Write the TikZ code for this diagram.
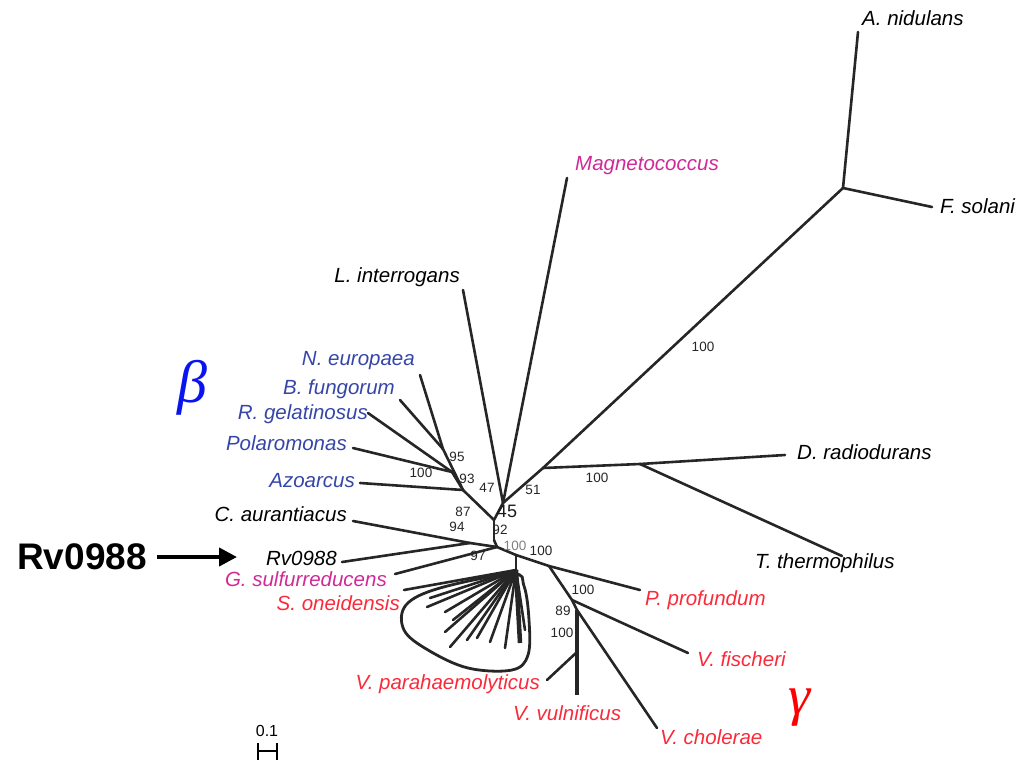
\documentclass[tikz,border=0pt]{standalone}
\usepackage{fontspec}
\setmainfont{Liberation Sans}
\newfontfamily\grkfont{Liberation Serif}
\usetikzlibrary{arrows.meta}
\definecolor{betablue}{HTML}{3646A8}
\definecolor{magblue}{HTML}{0A14F0}
\definecolor{magpink}{HTML}{D02A96}
\definecolor{gamred}{HTML}{FA2A3A}

\begin{document}
\begin{tikzpicture}[x=1pt, y=-1pt,
  br/.style={line width=2.6pt, black!85, line cap=round},
  fan/.style={line width=2.6pt, black!85, line cap=round},
  taxon/.style={font=\fontsize{20.5}{20.5}\selectfont\itshape, inner sep=0pt},
  boot/.style={font=\fontsize{13.5}{13.5}\selectfont, black!85, inner sep=0pt},
  bigboot/.style={font=\fontsize{18}{18}\selectfont, black!90, inner sep=0pt},
  grk/.style={font=\fontsize{60}{60}\grkfont\itshape, inner sep=0pt},
]
  \useasboundingbox (0,0) rectangle (1025,766);

  % leaf ends
  \coordinate (anid) at (858,32);   \coordinate (fsol) at (932,207);
  \coordinate (mag) at (567,178);   \coordinate (lint) at (463,290);
  \coordinate (neu) at (420,375);   \coordinate (bfu) at (400,400);
  \coordinate (rge) at (368,413);   \coordinate (pol) at (353,448);
  \coordinate (azo) at (360,483);   \coordinate (cau) at (353,521);
  \coordinate (rv) at (342,562);    \coordinate (gsu) at (395,574);
  \coordinate (son) at (404,590);   \coordinate (vpa) at (547,680);
  \coordinate (vvu) at (577,695);   \coordinate (vch) at (657,728);
  \coordinate (vfi) at (688,653);   \coordinate (ppr) at (640,590);
  \coordinate (dra) at (785,455);   \coordinate (tth) at (842,556);

  % inner nodes
  \coordinate (nfun) at (843,188);  \coordinate (ndt) at (543,468);
  \coordinate (nd) at (640,464);    \coordinate (nmag) at (503,503);
  \coordinate (nb1) at (443,449);   \coordinate (nb2) at (452,472);
  \coordinate (nb3) at (463,490);   \coordinate (nj) at (494,520);
  \coordinate (nc) at (494,540);    \coordinate (nr) at (470,543);
  \coordinate (ncen) at (497,547);  \coordinate (ng) at (516,555);
  \coordinate (nf) at (516,570);    \coordinate (nv) at (549,566);
  \coordinate (nv2) at (572,600);   \coordinate (nv3) at (577,610);
  \coordinate (nv4) at (577,652);

  % branches
  \draw[br] (nfun) -- (anid);  \draw[br] (nfun) -- (fsol);
  \draw[br] (nfun) -- (ndt);
  \draw[br] (ndt) -- (nd);  \draw[br] (nd) -- (dra);  \draw[br] (nd) -- (tth);
  \draw[br] (ndt) -- (nmag);
  \draw[br] (nmag) -- (mag);  \draw[br] (nmag) -- (lint);
  \draw[br] (nmag) -- (nj);
  \draw[br] (nb1) -- (neu);  \draw[br] (nb1) -- (bfu);  \draw[br] (nb1) -- (nb3);
  \draw[br] (nb2) -- (rge);  \draw[br] (nb2) -- (pol);  \draw[br] (nb2) -- (nb3);
  \draw[br] (nb3) -- (azo);  \draw[br] (nb3) -- (nj);
  \draw[br] (nj) -- (nc);  \draw[br] (nc) -- (ncen);
  \draw[br] (nr) -- (cau);  \draw[br] (nr) -- (rv);  \draw[br] (nr) -- (ncen);
  \draw[br] (ncen) -- (gsu);  \draw[br] (ncen) -- (ng);
  \draw[br] (ng) -- (nf);  \draw[br] (nf) -- (son);
  \draw[br] (ng) -- (nv);  \draw[br] (nv) -- (ppr);  \draw[br] (nv) -- (nv2);
  \draw[br] (nv2) -- (vfi);  \draw[br] (nv2) -- (nv3);  \draw[br] (nv3) -- (vch);
  \draw[br, line width=4.5pt, line cap=butt] (nv3) -- (vvu);
  \draw[br] (nv4) -- (vpa);

  % shewanella fan
  \foreach \fx/\fy in {430/598, 427/607, 445/612, 453/620, 445/632, 450/647,
                       467/640, 477/638, 490/642, 505/648, 525/630}
    \draw[fan] (nf) -- (\fx,\fy);
  \draw[br, line width=4.5pt, line cap=butt] (nf) -- (520,643);
  \draw[line width=2.8pt, black!85] plot[smooth cycle, tension=0.6] coordinates
    {(512,574) (440,588) (406,605) (404,630) (428,650) (468,668) (512,670)
     (528,655) (529,620) (524,586)};

  % taxa
  \node[taxon, anchor=west] (lanid) at (862,18) {A.\ nidulans};
  \node[taxon, anchor=west] (lfsol) at (940,206) {F.\ solani};
  \node[taxon, anchor=west, text=magpink] (lmag) at (575,166) {Magnetococcus};
  \node[taxon, anchor=east] (llint) at (460,277) {L.\ interrogans};
  \node[taxon, anchor=east, text=betablue] (lneu) at (415,361) {N.\ europaea};
  \node[taxon, anchor=east, text=betablue] (lbfu) at (395,389) {B.\ fungorum};
  \node[taxon, anchor=east, text=betablue] (lrge) at (368,414) {R.\ gelatinosus};
  \node[taxon, anchor=east, text=betablue] (lpol) at (347,443) {Polaromonas};
  \node[taxon, anchor=east, text=betablue] (lazo) at (355,481) {Azoarcus};
  \node[taxon, anchor=east] (lcau) at (347,514) {C.\ aurantiacus};
  \node[taxon, anchor=east] (lrv) at (337,558) {Rv0988};
  \node[taxon, anchor=east, text=magpink] (lgsu) at (387,579) {G.\ sulfurreducens};
  \node[taxon, anchor=east, text=gamred] (lson) at (400,603) {S.\ oneidensis};
  \node[taxon, anchor=east, text=gamred] (lvpa) at (540,684) {V.\ parahaemolyticus};
  \node[taxon, anchor=west, text=gamred] (lvvu) at (513,713) {V.\ vulnificus};
  \node[taxon, anchor=west, text=gamred] (lvch) at (660,737) {V.\ cholerae};
  \node[taxon, anchor=west, text=gamred] (lvfi) at (697,659) {V.\ fischeri};
  \node[taxon, anchor=west, text=gamred] (lppr) at (645,600) {P.\ profundum};
  \node[taxon, anchor=west] (ldra) at (797,452) {D.\ radiodurans};
  \node[taxon, anchor=west] (ltth) at (755,563) {T.\ thermophilus};

  % bootstrap values
  \node[boot] (b1) at (703,347) {100};
  \node[boot] (b2) at (597,478) {100};
  \node[boot] (b3) at (533,490) {51};
  \node[boot] (b4) at (487,488) {47};
  \node[boot] (b5) at (457,457) {95};
  \node[boot] (b6) at (421,473) {100};
  \node[boot] (b7) at (467,479) {93};
  \node[boot] (b8) at (463,512) {87};
  \node[bigboot] (b9) at (507,511) {45};
  \node[boot] (b10) at (457,527) {94};
  \node[boot] (b11) at (500,530) {92};
  \node[boot] (b12) at (478,556) {97};
  \node[boot, text=black!50] (b13) at (515,546) {100};
  \node[boot] (b14) at (541,551) {100};
  \node[boot] (b15) at (583,590) {100};
  \node[boot] (b16) at (563,611) {89};
  \node[boot] (b17) at (562,633) {100};

  % group letters
  \node[grk, text=magblue] (beta) at (192,388) {β};
  \node[grk, text=red, font=\fontsize{56}{56}\grkfont\itshape] (gamma) at (800,708) {γ};

  % query arrow
  \node[font=\fontsize{37}{37}\selectfont\bfseries, inner sep=0pt] (query) at (82,557) {Rv0988};
  \coordinate (qtip) at (237,557);
  \draw[line width=4pt, -{Triangle[length=18pt, width=18pt]}] (query.east) ++(10,0) -- (qtip);

  % scale bar
  \node[font=\fontsize{16}{16}\selectfont, inner sep=0pt] (scl) at (267,731) {0.1};
  \coordinate (s1) at (258,751);  \coordinate (s2) at (277,751);
  \draw[line width=2.8pt] (s1) -- (s2);
  \draw[line width=2.8pt] (258,743) -- (258,760);
  \draw[line width=2.8pt] (277,743) -- (277,760);
\end{tikzpicture}
\end{document}
